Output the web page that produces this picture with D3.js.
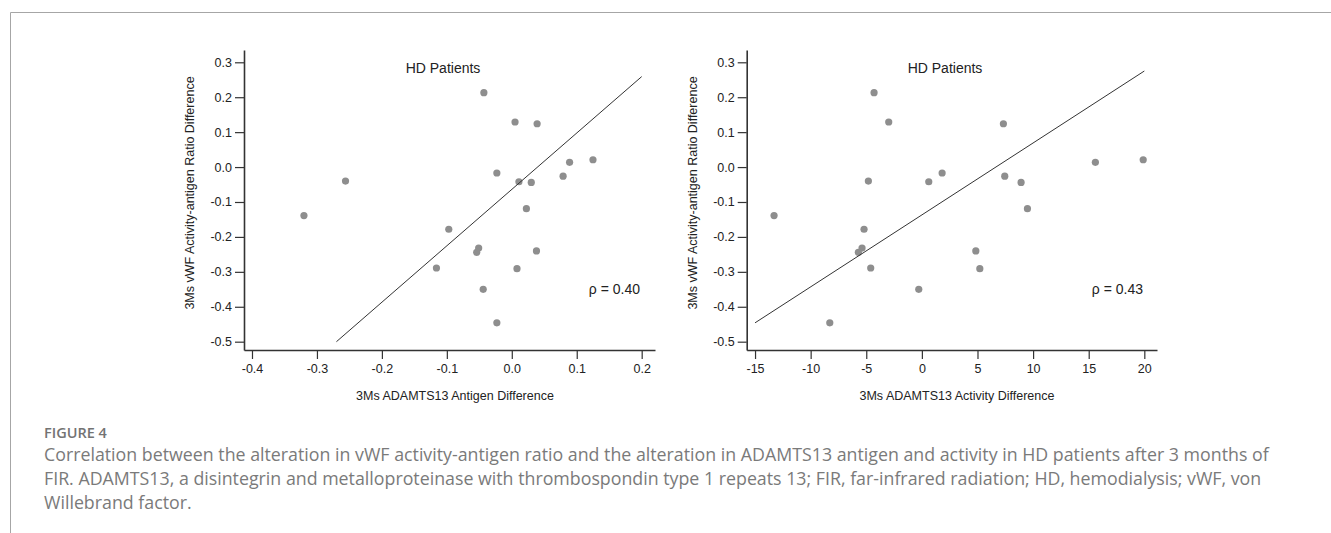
<!DOCTYPE html>
<html>
<head>
<meta charset="utf-8">
<script src="https://cdn.jsdelivr.net/npm/d3@7"></script>
<style>
  html, body { margin: 0; padding: 0; background: #fff; }
  svg { display: block; }
</style>
</head>
<body>
<svg id="chart" width="1331" height="533"></svg>
<script>
// ---------------- DATA ----------------
// vWF activity-antigen ratio difference (shared y for both panels, one per patient)
const ratioDiff = [0.213, 0.129, 0.124, 0.0135, 0.021, -0.017, -0.026, -0.040, -0.042, -0.044,
                   -0.139, -0.119, -0.178, -0.232, -0.244, -0.240, -0.289, -0.291, -0.350, -0.446];
// ADAMTS13 antigen difference (left panel x)
const antigenDiff = [-0.043, 0.005, 0.039, 0.089, 0.125, -0.023, 0.079, -0.256, 0.011, 0.030,
                     -0.320, 0.0225, -0.097, -0.051, -0.054, 0.038, -0.116, 0.008, -0.044, -0.023];
// ADAMTS13 activity difference (right panel x)
const activityDiff = [-4.30, -2.98, 7.33, 15.6, 19.9, 1.82, 7.45, -4.81, 0.62, 8.92,
                      -13.29, 9.49, -5.20, -5.38, -5.71, 4.85, -4.60, 5.21, -0.28, -8.28];

const yTicks = [0.3, 0.2, 0.1, 0.0, -0.1, -0.2, -0.3, -0.4, -0.5];
const xTicksAntigen = [-0.4, -0.3, -0.2, -0.1, 0.0, 0.1, 0.2];
const xTicksActivity = [-15, -10, -5, 0, 5, 10, 15, 20];

// regression line endpoints [x, y]
const fitAntigen = [[-0.27, -0.5], [0.20, 0.259]];
const fitActivity = [[-15, -0.446], [20, 0.275]];

const rhoAntigen = "ρ = 0.40";
const rhoActivity = "ρ = 0.43";
const panelTitle = "HD Patients";
const yTitle = "3Ms vWF Activity-antigen Ratio Difference";
const xTitleAntigen = "3Ms ADAMTS13 Antigen Difference";
const xTitleActivity = "3Ms ADAMTS13 Activity Difference";

const captionHead = "FIGURE 4";
const captionLines = [
  "Correlation between the alteration in vWF activity-antigen ratio and the alteration in ADAMTS13 antigen and activity in HD patients after 3 months of",
  "FIR. ADAMTS13, a disintegrin and metalloproteinase with thrombospondin type 1 repeats 13; FIR, far-infrared radiation; HD, hemodialysis; vWF, von",
  "Willebrand factor."
];

// ---------------- DRAW ----------------
const svg = d3.select("#chart");
const FONT = "'Liberation Sans', Arial, sans-serif";
const AXIS_COLOR = "#333";
const hyphen = f => (d => f(d).replace("\u2212", "-"));

// frame
svg.append("path")
  .attr("d", "M10.5,533 L10.5,12.5 L1331,12.5")
  .attr("fill", "none").attr("stroke", "#a6a6a6").attr("stroke-width", 1);

const yDomain = [-0.5238, 0.3352];
const yRange = [350, 50];

function panel(cfg) {
  const g = svg.append("g");
  const x = d3.scaleLinear().domain(cfg.xDomain).range(cfg.xRange);
  const y = d3.scaleLinear().domain(yDomain).range(yRange);

  // x axis
  const xa = g.append("g")
    .attr("transform", `translate(0,${yRange[0]})`)
    .call(d3.axisBottom(x).tickValues(cfg.xTicks).tickSizeInner(9).tickSizeOuter(0).tickPadding(5)
      .tickFormat(hyphen(cfg.xFormat)));
  // y axis
  const ya = g.append("g")
    .attr("transform", `translate(${cfg.xRange[0]},0)`)
    .call(d3.axisLeft(y).tickValues(yTicks).tickSizeInner(9).tickSizeOuter(0).tickPadding(3)
      .tickFormat(hyphen(d3.format(".1f"))));

  [xa, ya].forEach(a => {
    a.select(".domain").attr("stroke", AXIS_COLOR).attr("stroke-width", 1.6);
    a.selectAll(".tick line").attr("stroke", AXIS_COLOR).attr("stroke-width", 1.2);
    a.selectAll(".tick text").attr("fill", "#222").attr("font-size", 12.5).attr("font-family", FONT);
  });

  // points
  g.append("g").selectAll("circle")
    .data(cfg.xs.map((v, i) => [v, ratioDiff[i]]))
    .join("circle")
    .attr("cx", d => x(d[0]))
    .attr("cy", d => y(d[1]))
    .attr("r", 3.6)
    .attr("fill", "#8e8e8e");

  // regression line
  g.append("path")
    .attr("d", d3.line().x(d => x(d[0])).y(d => y(d[1]))(cfg.fit))
    .attr("fill", "none").attr("stroke", "#333").attr("stroke-width", 1);

  // title
  g.append("text")
    .attr("x", cfg.titleX).attr("y", 73)
    .attr("text-anchor", "middle")
    .attr("font-family", FONT).attr("font-size", 14).attr("fill", "#222")
    .text(panelTitle);

  // rho
  g.append("text")
    .attr("x", cfg.rhoX).attr("y", 294)
    .attr("text-anchor", "end")
    .attr("font-family", FONT).attr("font-size", 14).attr("fill", "#222")
    .text(cfg.rho);

  // y title
  g.append("text")
    .attr("transform", `translate(${cfg.xRange[0] - 50},193) rotate(-90)`)
    .attr("text-anchor", "middle")
    .attr("font-family", FONT).attr("font-size", 12.5).attr("fill", "#222")
    .text(yTitle);

  // x title
  g.append("text")
    .attr("x", cfg.xTitleX).attr("y", 400)
    .attr("text-anchor", "middle")
    .attr("font-family", FONT).attr("font-size", 12.5).attr("fill", "#222")
    .text(cfg.xTitle);
}

panel({
  xDomain: [-0.4123, 0.2205], xRange: [244, 655],
  xTicks: xTicksAntigen, xFormat: d3.format(".1f"),
  xs: antigenDiff, fit: fitAntigen,
  titleX: 443, rhoX: 640, rho: rhoAntigen,
  xTitle: xTitleAntigen, xTitleX: 455
});

panel({
  xDomain: [-15.75, 21.14], xRange: [746.7, 1157],
  xTicks: xTicksActivity, xFormat: d3.format("d"),
  xs: activityDiff, fit: fitActivity,
  titleX: 945, rhoX: 1143, rho: rhoActivity,
  xTitle: xTitleActivity, xTitleX: 957
});

// caption
const CAP_FONT = "'Open Sans', Lato, sans-serif";
svg.append("text")
  .attr("x", 44).attr("y", 438)
  .attr("font-family", CAP_FONT).attr("font-size", 14.5).attr("font-weight", 600)
  .attr("fill", "#737373")
  .text(captionHead);

svg.append("g").selectAll("text")
  .data(captionLines)
  .join("text")
  .attr("x", 44)
  .attr("y", (d, i) => 461 + i * 24)
  .attr("font-family", CAP_FONT).attr("font-size", 17.8)
  .attr("fill", "#7a7a7a")
  .text(d => d);
</script>
</body>
</html>
